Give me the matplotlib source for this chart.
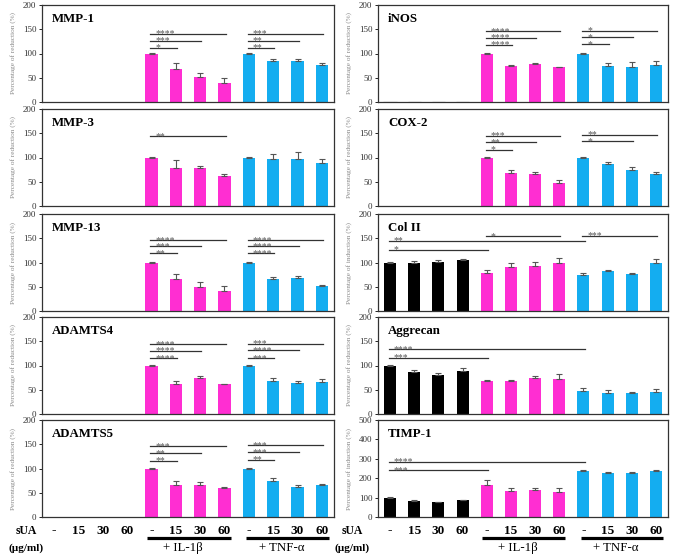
"""Ten-panel bar figure: sUA effect on IL-1b / TNF-a stimulated gene expression."""
import matplotlib

matplotlib.use("Agg")
import matplotlib.pyplot as plt
import numpy as np

plt.rcParams["font.family"] = ["Liberation Serif", "DejaVu Serif"]

NA = np.nan
doses = ["-", "15", "30", "60"] * 3
groups = ["+ IL-1\u03b2", "+ TNF-\u03b1"]
bar_colors = ["black"] * 4 + ["#ff2ed2"] * 4 + ["#14adf0"] * 4

# left column: reduction assays (first four groups not measured)
mmp1_mean = [NA] * 4 + [100, 69, 52, 40, 100, 84, 84, 76]
mmp1_err = [NA] * 4 + [0.5, 11, 7, 10, 0.5, 4, 5, 5]
mmp1_sig = [(4, 5, "*", 112), (4, 6, "***", 126), (4, 7, "****", 141),
            (8, 9, "**", 112), (8, 10, "**", 126), (8, 11, "***", 141)]

mmp3_mean = [NA] * 4 + [100, 79, 78, 62, 100, 97, 96, 88]
mmp3_err = [NA] * 4 + [1, 16, 4, 4, 1, 10, 16, 9]
mmp3_sig = [(4, 7, "**", 144)]

mmp13_mean = [NA] * 4 + [100, 65, 50, 42, 100, 65, 69, 52]
mmp13_err = [NA] * 4 + [0.5, 11, 9, 9, 0.5, 6, 4, 2]
mmp13_sig = [(4, 5, "**", 119), (4, 6, "***", 133), (4, 7, "****", 146),
             (8, 9, "****", 119), (8, 10, "****", 133), (8, 11, "****", 146)]

adamts4_mean = [NA] * 4 + [100, 62, 74, 61, 100, 69, 64, 66]
adamts4_err = [NA] * 4 + [1, 6, 5, 1, 1, 6, 5, 7]
adamts4_sig = [(4, 5, "****", 115), (4, 6, "****", 130), (4, 7, "****", 144),
               (8, 9, "***", 115), (8, 10, "****", 131), (8, 11, "***", 145)]

adamts5_mean = [NA] * 4 + [100, 65, 65, 59, 100, 75, 62, 67]
adamts5_err = [NA] * 4 + [0.5, 10, 7, 3, 0.5, 6, 3, 1]
adamts5_sig = [(4, 5, "**", 116), (4, 6, "**", 131), (4, 7, "***", 146),
               (8, 9, "**", 118), (8, 10, "***", 133), (8, 11, "***", 148)]

# right column
inos_mean = [0, 0, 0, 0, 100, 74, 79, 72, 100, 74, 73, 77]
inos_err = [0, 0, 0, 0, 1, 3, 1, 0.5, 1, 7, 10, 7]
inos_sig = [(4, 5, "****", 118), (4, 6, "****", 132), (4, 7, "****", 146),
            (8, 9, "*", 119), (8, 10, "*", 133), (8, 11, "*", 147)]

cox2_mean = [NA] * 4 + [100, 69, 65, 48, 100, 87, 75, 66]
cox2_err = [NA] * 4 + [1, 5, 5, 5, 1, 3, 6, 5]
cox2_sig = [(4, 5, "*", 116), (4, 6, "**", 131), (4, 7, "***", 145),
            (8, 10, "*", 133), (8, 11, "**", 147)]

col2_mean = [100, 99, 101, 105, 79, 90, 92, 98, 74, 82, 77, 100]
col2_err = [0.5, 4, 4, 3, 6, 8, 10, 12, 4, 2, 2, 7]
col2_sig = [(0, 4, "*", 126), (0, 8, "**", 145), (4, 7, "*", 154), (8, 11, "***", 155)]

aggrecan_mean = [100, 86, 80, 89, 68, 69, 74, 73, 47, 44, 43, 45]
aggrecan_err = [0.5, 5, 5, 5, 2, 2, 4, 9, 7, 6, 3, 7]
aggrecan_sig = [(0, 4, "***", 116), (0, 8, "****", 133)]

timp1_mean = [100, 83, 78, 86, 167, 136, 141, 131, 238, 226, 228, 236]
timp1_err = [1, 3, 1, 4, 26, 15, 10, 20, 5, 5, 2, 8]
timp1_sig = [(0, 4, "***", 240), (0, 8, "****", 283)]

RED = "Percentage of reduction (%)"
IND = "Percentage of induction (%)"

left_panels = [("MMP-1", mmp1_mean, mmp1_err, mmp1_sig, RED, 200),
               ("MMP-3", mmp3_mean, mmp3_err, mmp3_sig, RED, 200),
               ("MMP-13", mmp13_mean, mmp13_err, mmp13_sig, RED, 200),
               ("ADAMTS4", adamts4_mean, adamts4_err, adamts4_sig, RED, 200),
               ("ADAMTS5", adamts5_mean, adamts5_err, adamts5_sig, RED, 200)]
right_panels = [("iNOS", inos_mean, inos_err, inos_sig, RED, 200),
                ("COX-2", cox2_mean, cox2_err, cox2_sig, RED, 200),
                ("Col II", col2_mean, col2_err, col2_sig, IND, 200),
                ("Aggrecan", aggrecan_mean, aggrecan_err, aggrecan_sig, RED, 200),
                ("TIMP-1", timp1_mean, timp1_err, timp1_sig, IND, 500)]

W, H = 675, 557
ROW_TOPS = [5, 109, 214, 317, 420]
ROW_H = 97


def draw_panel(ax, name, mean, err, sig, ylabel, ymax):
    mean = np.asarray(mean, float)
    err = np.asarray(err, float)
    for i in range(12):
        if np.isnan(mean[i]):
            continue
        if mean[i] == 0:
            ax.bar(i, 0, width=0.55, facecolor="none", edgecolor="#bbbbbb", lw=1)
            continue
        ax.bar(i, mean[i], width=0.5, color=bar_colors[i], zorder=2)
        ax.errorbar(i, mean[i], yerr=[[0], [err[i]]], fmt="none", ecolor="#555555",
                    elinewidth=0.8, capsize=2, capthick=0.8, zorder=3)
    for a, b, label, y in sig:
        ax.plot([a - 0.05, b + 0.05], [y, y], color="#333333", lw=0.9, zorder=3)
        ax.annotate(label, (a + 0.15, y), xytext=(0, -1.8), textcoords="offset points",
                    fontsize=7, color="#555555", va="baseline", ha="left")
    ax.set_xlim(-0.5, 11.5)
    ax.set_ylim(0, ymax)
    ax.set_yticks(np.linspace(0, ymax, 5 if ymax == 200 else 6))
    ax.set_xticks([])
    ax.tick_params(axis="y", direction="out", length=2.5, width=0.6, pad=1.5,
                   labelsize=6.5, labelcolor="#333333")
    for s in ax.spines.values():
        s.set_color("#333333")
        s.set_linewidth(0.9)
    ax.set_ylabel(ylabel, fontsize=5.2, color="#888888")
    ax.yaxis.set_label_coords(-0.088, 0.5)
    ax.text(0.035, 0.86, name, transform=ax.transAxes, fontsize=9.3,
            fontweight="bold", va="center", ha="left")


def dose_labels(ax, sua_x):
    tr = ax.get_xaxis_transform()
    for i, d in enumerate(doses):
        ax.text(i, -0.14, d, transform=tr, ha="center", va="center",
                fontsize=9.5, fontweight="bold", clip_on=False)
    for (x0, x1), g in zip([(3.8, 7.25), (7.9, 11.3)], groups):
        ax.plot([x0, x1], [-0.215, -0.215], transform=tr, color="black",
                lw=2.3, clip_on=False, solid_capstyle="butt")
        ax.text((x0 + x1) / 2 - 0.25, -0.32, g, transform=tr, ha="center",
                va="center", fontsize=9.3, clip_on=False)
    ax.text(sua_x, -0.14, "sUA", transform=ax.transAxes, ha="center", va="center",
            fontsize=8.5, fontweight="bold")
    ax.text(sua_x, -0.32, "(\u00b5g/ml)", transform=ax.transAxes, ha="center",
            va="center", fontsize=8, fontweight="bold")


fig = plt.figure(figsize=(W / 100, H / 100), dpi=100)
for col, (x_left, x_right, panels) in enumerate([(42, 334, left_panels),
                                                 (378, 668, right_panels)]):
    for row, p in enumerate(panels):
        top = ROW_TOPS[row]
        ax = fig.add_axes([x_left / W, 1 - (top + ROW_H) / H,
                           (x_right - x_left) / W, ROW_H / H])
        draw_panel(ax, *p)
        if row == len(panels) - 1:
            dose_labels(ax, -0.055 if col == 0 else -0.09)

fig.savefig("out.png", dpi=100)
